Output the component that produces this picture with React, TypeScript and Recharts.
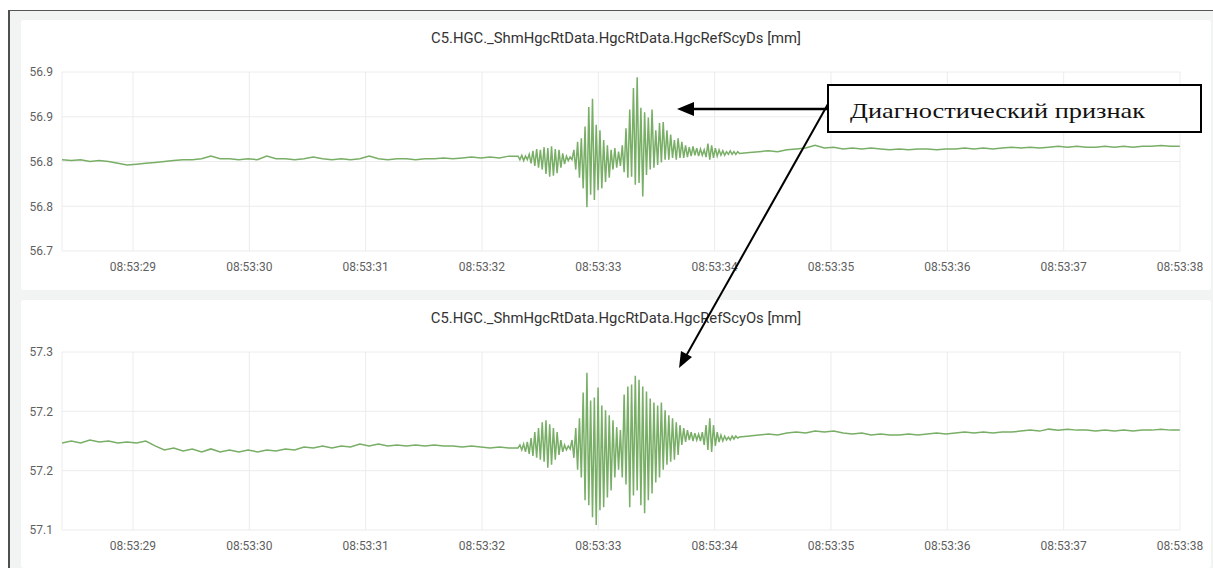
import { LineChart, Line, XAxis, YAxis, CartesianGrid } from "recharts";

// seconds after 08:53:00
const X_DOMAIN: [number, number] = [28.39, 38];
const X_TICKS = [29, 30, 31, 32, 33, 34, 35, 36, 37, 38];

// sampling of the three stretches (calm / burst / calm)
const PRE_T0 = 28.39;
const PRE_DT = 0.08;
const BURST_T0 = 32.31;
const BURST_DT = 0.016;
const POST_T0 = 34.3;
const POST_DT = 0.0804;

const dsTicks = [56.7, 56.75, 56.8, 56.85, 56.9];
const osTicks = [57.1, 57.16, 57.22, 57.28];

const dsPre = [
  56.802, 56.801, 56.802, 56.8, 56.801, 56.8, 56.798, 56.796, 56.797, 56.798,
  56.799, 56.8, 56.801, 56.802, 56.802, 56.803, 56.806, 56.803, 56.803, 56.802,
  56.803, 56.802, 56.806, 56.803, 56.803, 56.802, 56.803, 56.805, 56.803, 56.802,
  56.803, 56.802, 56.803, 56.806, 56.803, 56.802, 56.803, 56.803, 56.802, 56.803,
  56.803, 56.804, 56.803, 56.804, 56.805, 56.804, 56.805, 56.804, 56.806,
];

const dsBurst = [
  56.806, 56.802, 56.807, 56.801, 56.806, 56.802, 56.808,
  56.798, 56.812, 56.795, 56.814, 56.793, 56.813, 56.791, 56.816,
  56.786, 56.815, 56.783, 56.817, 56.784, 56.814, 56.787, 56.813,
  56.793, 56.809, 56.797, 56.806, 56.801, 56.805,
  56.802, 56.813, 56.791, 56.822, 56.782, 56.826, 56.77, 56.839, 56.749, 56.861, 56.763,
  56.87, 56.757, 56.841, 56.768, 56.835, 56.77, 56.824, 56.777, 56.818, 56.782,
  56.813, 56.791, 56.815, 56.793, 56.811, 56.795, 56.818, 56.788, 56.837, 56.782,
  56.858, 56.783, 56.882, 56.774, 56.894, 56.776, 56.86, 56.761, 56.855, 56.785,
  56.849, 56.791, 56.858, 56.793, 56.835, 56.796, 56.843, 56.799, 56.844, 56.802,
  56.835, 56.802, 56.83, 56.804, 56.824, 56.802, 56.826, 56.804, 56.822, 56.804,
  56.818, 56.805, 56.816, 56.806, 56.817, 56.807, 56.815, 56.806, 56.814, 56.807,
  56.813, 56.805, 56.82, 56.802, 56.818, 56.804, 56.815, 56.806, 56.813, 56.807,
  56.812, 56.807, 56.811, 56.808, 56.812, 56.808, 56.811, 56.808, 56.811, 56.809,
];

const dsPost = [
  56.81, 56.811, 56.812, 56.811, 56.813, 56.814, 56.815, 56.818, 56.815, 56.816,
  56.814, 56.815, 56.814, 56.815, 56.814, 56.813, 56.814, 56.813, 56.814, 56.814,
  56.813, 56.814, 56.814, 56.815, 56.814, 56.815, 56.814, 56.815, 56.816, 56.815,
  56.816, 56.815, 56.816, 56.817, 56.816, 56.817, 56.816, 56.816, 56.817, 56.816,
  56.817, 56.816, 56.817, 56.817, 56.818, 56.817, 56.817,
];

const osPre = [
  57.188, 57.19, 57.188, 57.191, 57.189, 57.19, 57.188, 57.189, 57.188, 57.19,
  57.185, 57.181, 57.183, 57.18, 57.182, 57.179, 57.182, 57.179, 57.181, 57.179,
  57.181, 57.179, 57.181, 57.18, 57.182, 57.181, 57.184, 57.183, 57.185, 57.183,
  57.185, 57.184, 57.187, 57.185, 57.187, 57.185, 57.186, 57.185, 57.186, 57.185,
  57.186, 57.185, 57.185, 57.184, 57.185, 57.184, 57.183, 57.184, 57.183,
];

const osBurst = [
  57.183, 57.186, 57.181,
  57.187, 57.179, 57.189, 57.177, 57.193, 57.175, 57.199, 57.173, 57.203, 57.171,
  57.209, 57.169, 57.211, 57.163, 57.207, 57.166, 57.203, 57.171, 57.199, 57.176,
  57.191, 57.179, 57.186, 57.181, 57.185, 57.182,
  57.191, 57.173, 57.203, 57.161, 57.213, 57.153, 57.239, 57.13, 57.259, 57.125,
  57.231, 57.113, 57.234, 57.105, 57.244, 57.12, 57.226, 57.123, 57.221, 57.133,
  57.216, 57.14, 57.211, 57.153, 57.204, 57.161, 57.201, 57.153, 57.237, 57.146,
  57.245, 57.123, 57.247, 57.135, 57.256, 57.14, 57.252, 57.125, 57.245, 57.117,
  57.24, 57.13, 57.233, 57.137, 57.229, 57.148, 57.226, 57.153, 57.229, 57.161,
  57.221, 57.166, 57.216, 57.169, 57.213, 57.171, 57.209, 57.176, 57.206, 57.186,
  57.203, 57.189, 57.201, 57.191, 57.199, 57.19, 57.198, 57.191, 57.197, 57.19,
  57.199, 57.186, 57.206, 57.181, 57.213, 57.179, 57.206, 57.185, 57.199, 57.189,
  57.196, 57.19, 57.195, 57.191, 57.194, 57.191, 57.195, 57.192, 57.195, 57.193, 57.194,
];

const osPost = [
  57.195, 57.196, 57.197, 57.196, 57.198, 57.199, 57.198, 57.2, 57.199, 57.2,
  57.198, 57.197, 57.198, 57.196, 57.197, 57.196, 57.196, 57.197, 57.196, 57.197,
  57.198, 57.197, 57.198, 57.199, 57.198, 57.199, 57.198, 57.199, 57.199, 57.2,
  57.201, 57.2, 57.202, 57.201, 57.202, 57.201, 57.201, 57.2, 57.201, 57.2,
  57.201, 57.2, 57.201, 57.201, 57.202, 57.201, 57.201,
];

const buildSeries = (pre: number[], burst: number[], post: number[]) => [
  ...pre.map((v, i) => ({ t: PRE_T0 + i * PRE_DT, v })),
  ...burst.map((v, i) => ({ t: BURST_T0 + i * BURST_DT, v })),
  ...post.map((v, i) => ({ t: POST_T0 + i * POST_DT, v })),
];

const dsData = buildSeries(dsPre, dsBurst, dsPost);
const osData = buildSeries(osPre, osBurst, osPost);

const FONT = "Roboto, 'Noto Sans', sans-serif";
const tickStyle = { fontSize: 12, fill: "#5f5f5f", fontFamily: FONT };

interface PanelProps {
  top: number;
  height: number;
  title: string;
  data: { t: number; v: number }[];
  ticks: number[];
}

function Panel({ top, height, title, data, ticks }: PanelProps) {
  return (
    <>
      <div
        style={{
          position: "absolute",
          left: 21,
          top,
          width: 1190,
          height: height,
          background: "#fff",
          borderRadius: 3,
        }}
      />
      <div
        style={{
          position: "absolute",
          left: 21,
          top: top + 9,
          width: 1190,
          textAlign: "center",
          fontFamily: FONT,
          fontSize: 14.8,
          lineHeight: "18px",
          color: "#333",
        }}
      >
        {title}
      </div>
      <div style={{ position: "absolute", left: 0, top }}>
        <LineChart
          width={1213}
          height={height}
          data={data}
          margin={{ top: 52, right: 33, bottom: height - 52 - 30 - 179 + (height < 270 ? 1 : 0), left: 12 }}
        >
          <CartesianGrid stroke="#ececec" strokeWidth={1} />
          <XAxis
            dataKey="t"
            type="number"
            domain={X_DOMAIN}
            ticks={X_TICKS}
            allowDataOverflow
            tickFormatter={(v: number) => `08:53:${v}`}
            tick={tickStyle}
            tickLine={false}
            axisLine={false}
            tickSize={0}
            tickMargin={11}
            height={30}
            interval={0}
          />
          <YAxis
            type="number"
            domain={[ticks[0], ticks[ticks.length - 1]]}
            ticks={ticks}
            allowDataOverflow
            tickFormatter={(v: number) => v.toFixed(1)}
            tick={tickStyle}
            tickLine={false}
            axisLine={false}
            tickSize={0}
            tickMargin={9}
            width={50}
            interval={0}
          />
          <Line
            type="linear"
            dataKey="v"
            stroke="#78ae66"
            strokeWidth={1.5}
            dot={false}
            isAnimationActive={false}
          />
        </LineChart>
      </div>
    </>
  );
}

export default function App() {
  return (
    <div
      style={{
        position: "absolute",
        left: 0,
        top: 0,
        width: 1213,
        height: 568,
        overflow: "hidden",
        background: "#fff",
      }}
    >
      <div
        style={{
          position: "absolute",
          left: 8,
          top: 10,
          width: 1205,
          height: 558,
          background: "#f2f3f3",
          borderLeft: "2px solid #4f4f4f",
          borderTop: "1.5px solid #555",
          boxSizing: "border-box",
        }}
      />
      <Panel top={20} height={270} title="C5.HGC._ShmHgcRtData.HgcRtData.HgcRefScyDs [mm]" data={dsData} ticks={dsTicks} />
      <Panel top={300} height={268} title="C5.HGC._ShmHgcRtData.HgcRtData.HgcRefScyOs [mm]" data={osData} ticks={osTicks} />
      <svg
        width={1213}
        height={568}
        style={{ position: "absolute", left: 0, top: 0, pointerEvents: "none" }}
      >
        <line x1={828} y1={109} x2={692} y2={109} stroke="#000" strokeWidth={2.5} />
        <polygon points="677,109 694,102 694,116" fill="#000" />
        <line x1={828} y1={104} x2={686} y2={356} stroke="#000" strokeWidth={2} />
        <polygon points="679,368 681,351 692,357" fill="#000" />
        <rect x={828} y={85} width={373} height={47} fill="#fff" stroke="#000" strokeWidth={2} />
        <text
          x={850}
          y={118}
          fontFamily="'Liberation Serif', 'Times New Roman', serif"
          fontSize={22}
          textLength={295}
          lengthAdjust="spacingAndGlyphs"
          fill="#111"
        >
          Диагностический признак
        </text>
      </svg>
    </div>
  );
}
